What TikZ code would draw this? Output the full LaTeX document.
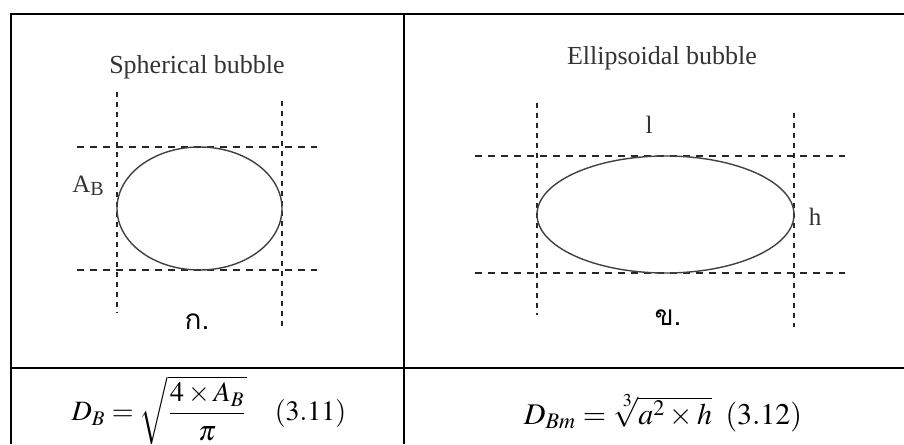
\documentclass[tikz,border=0pt]{standalone}
\usepackage{amsmath}
\usepackage{mathptmx}
\usepackage{fontspec}
\setmainfont{Liberation Serif}
\newfontfamily\thaifont[Script=Thai]{Loma}
\usepackage{tikz}

\begin{document}
\begin{tikzpicture}[x=0.5pt, y=-0.5pt,
  tbl/.style={line width=1pt, draw=black},
  guide/.style={draw=black!85, line width=0.55pt, dash pattern=on 3.5pt off 3pt},
  vguide/.style={draw=black!85, line width=0.55pt, dash pattern=on 2.5pt off 2.5pt},
  bubble/.style={draw=black!75, line width=0.7pt},
  title/.style={text=black!80, font=\fontsize{13}{15}\selectfont, inner sep=0pt},
  lbl/.style={text=black!80, font=\fontsize{12.5}{15}\selectfont, inner sep=0pt},
  thai/.style={font=\thaifont\fontsize{14}{16}\selectfont, inner sep=0pt},
  eq/.style={font=\fontsize{15}{18}\selectfont, inner sep=0pt}]
\useasboundingbox (0,0) rectangle (904,444);

\draw[tbl] (11,444) -- (11,14) -- (904,14);
\draw[tbl] (404,14) -- (404,444);
\draw[tbl] (11,368) -- (904,368);

\node[title] (sphT) at (197,67) {Spherical bubble};
\draw[vguide] (117,92) -- (117,313);
\draw[vguide] (282,101) -- (282,326);
\draw[guide] (77,147) -- (317,147);
\draw[guide] (77,270) -- (317,270);
\draw[bubble] (199.5,208.5) ellipse [x radius=82.5, y radius=61.5];
\node[lbl] (area) at (88,186) {A\raisebox{-0.25ex}{\fontsize{10}{12}\selectfont B}};
\node[thai] (ko) at (197,322) {ก.};

\node[title] (ellT) at (662,58) {Ellipsoidal bubble};
\draw[vguide] (537,103) -- (537,315);
\draw[vguide] (794,113) -- (794,327);
\draw[guide] (475,156) -- (845,156);
\draw[guide] (475,273) -- (845,273);
\draw[bubble] (665.5,214.5) ellipse [x radius=128.5, y radius=58.5];
\node[lbl] (len) at (649,125) {l};
\node[lbl] (hgt) at (815,217) {h};
\node[thai] (kho) at (668,318) {ข.};

\node[eq, font=\fontsize{14}{17}\selectfont] (eqA) at (209,410) {$D_{B}=\sqrt{\dfrac{4\times A_{B}}{\pi}}\quad\mathrm{(3.11)}$};
\node[eq] (eqB) at (663,413) {$D_{Bm}=\sqrt[\leftroot{-1}\uproot{2}3]{a^{2}\times h}\;\;\mathrm{(3.12)}$};
\end{tikzpicture}
\end{document}
